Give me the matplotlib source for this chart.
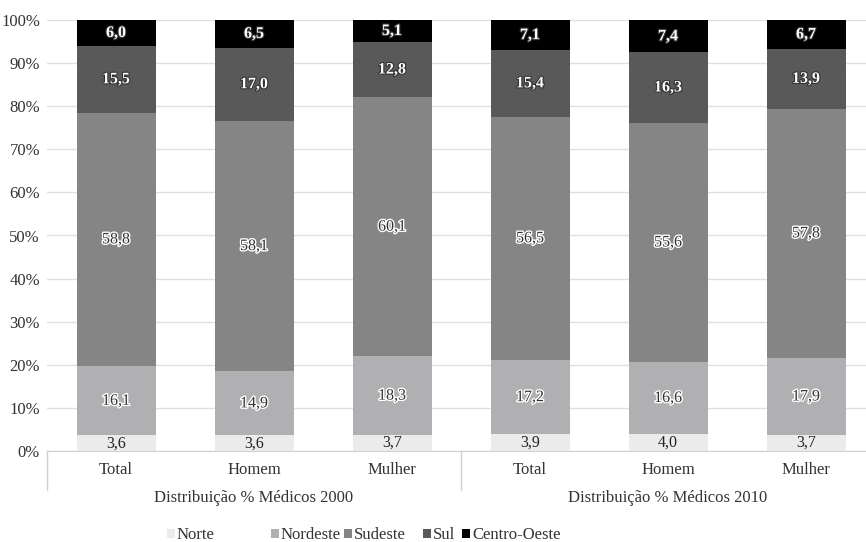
import matplotlib
import matplotlib.pyplot as plt
import matplotlib.patheffects as pe
import numpy as np

matplotlib.use("Agg")

categories = ["Total", "Homem", "Mulher", "Total", "Homem", "Mulher"]
groups = ["Distribuição % Médicos 2000", "Distribuição % Médicos 2010"]
regions = ["Norte", "Nordeste", "Sudeste", "Sul", "Centro-Oeste"]

norte = [3.6, 3.6, 3.7, 3.9, 4.0, 3.7]
nordeste = [16.1, 14.9, 18.3, 17.2, 16.6, 17.9]
sudeste = [58.8, 58.1, 60.1, 56.5, 55.6, 57.8]
sul = [15.5, 17.0, 12.8, 15.4, 16.3, 13.9]
centro_oeste = [6.0, 6.5, 5.1, 7.1, 7.4, 6.7]

series = [norte, nordeste, sudeste, sul, centro_oeste]
colors = ["#ebebeb", "#b0b0b2", "#858585", "#595959", "#000000"]

plt.rcParams["font.family"] = ["Liberation Serif", "DejaVu Serif"]

W, H = 866, 542
fig = plt.figure(figsize=(W / 100, H / 100), dpi=100)
left, right, top, bottom = 47, 866, 20, 451
ax = fig.add_axes([left / W, 1 - bottom / H, (right - left) / W, (bottom - top) / H])

x = np.arange(len(categories))
width = 79 / 138
base = np.zeros(len(categories))
handles = []
for name, vals, col in zip(regions, series, colors):
    vals = np.array(vals)
    bars = ax.bar(x, vals, width, bottom=base, color=col, label=name, zorder=3)
    handles.append(bars)
    for xi, b, v in zip(x, base, vals):
        cy = (b + 100) / 2 if b + v > 100 else b + v / 2
        txt = f"{v:.1f}".replace(".", ",")
        if name == "Norte":
            ax.text(xi, cy, txt, ha="center", va="center", fontsize=11.5, color="#222222", zorder=4)
        elif name in ("Sul", "Centro-Oeste"):
            ax.text(xi, cy, txt, ha="center", va="center", fontsize=11.5, color="white",
                    fontweight="bold", zorder=4,
                    path_effects=[pe.withStroke(linewidth=1.6, foreground="#333333")])
        else:
            ax.text(xi, cy, txt, ha="center", va="center", fontsize=11.5, color="#333333",
                    zorder=4, path_effects=[pe.withStroke(linewidth=2, foreground="white")])
    base += vals

slot = 138
ax.set_xlim(-0.5, -0.5 + (right - left) / slot)
ax.set_ylim(0, 100)
ax.set_yticks(np.arange(0, 101, 10))
ax.set_yticklabels([f"{t}%" for t in range(0, 101, 10)], fontsize=12, color="#333333")
ax.yaxis.grid(True, color="#e0e0e0", linewidth=1, zorder=0)
ax.tick_params(axis="y", length=0, pad=5)
ax.tick_params(axis="x", length=0, pad=8)
ax.set_xticks(x)
ax.set_xticklabels(categories, fontsize=12, color="#333333")
for s in ["top", "right", "left"]:
    ax.spines[s].set_visible(False)
ax.spines["bottom"].set_color("#d0d0d0")

# group separators and labels
trans = ax.get_xaxis_transform()
sep_depth = -(490 - bottom) / (bottom - top)
for xs in [-0.5, 2.5]:
    ax.plot([xs, xs], [0, sep_depth], transform=trans, color="#d0d0d0", lw=1, clip_on=False)
for gi, g in enumerate(groups):
    ax.text(1 + 3 * gi, -(498 - bottom) / (bottom - top), g, transform=trans,
            ha="center", va="center", fontsize=12, color="#333333")

# legend entries placed individually (Excel-like uneven spacing)
legend_x = [167, 271, 344, 423, 462]
for h, name, lx in zip(handles, regions, legend_x):
    fig.legend([h], [name], loc="center left", bbox_to_anchor=(lx / W, 1 - 535 / H),
               frameon=False, fontsize=12, handlelength=0.45, handleheight=0.45,
               handletextpad=0.15, borderpad=0, borderaxespad=0, labelcolor="#333333")

fig.savefig("out.png", dpi=100, facecolor="white")
